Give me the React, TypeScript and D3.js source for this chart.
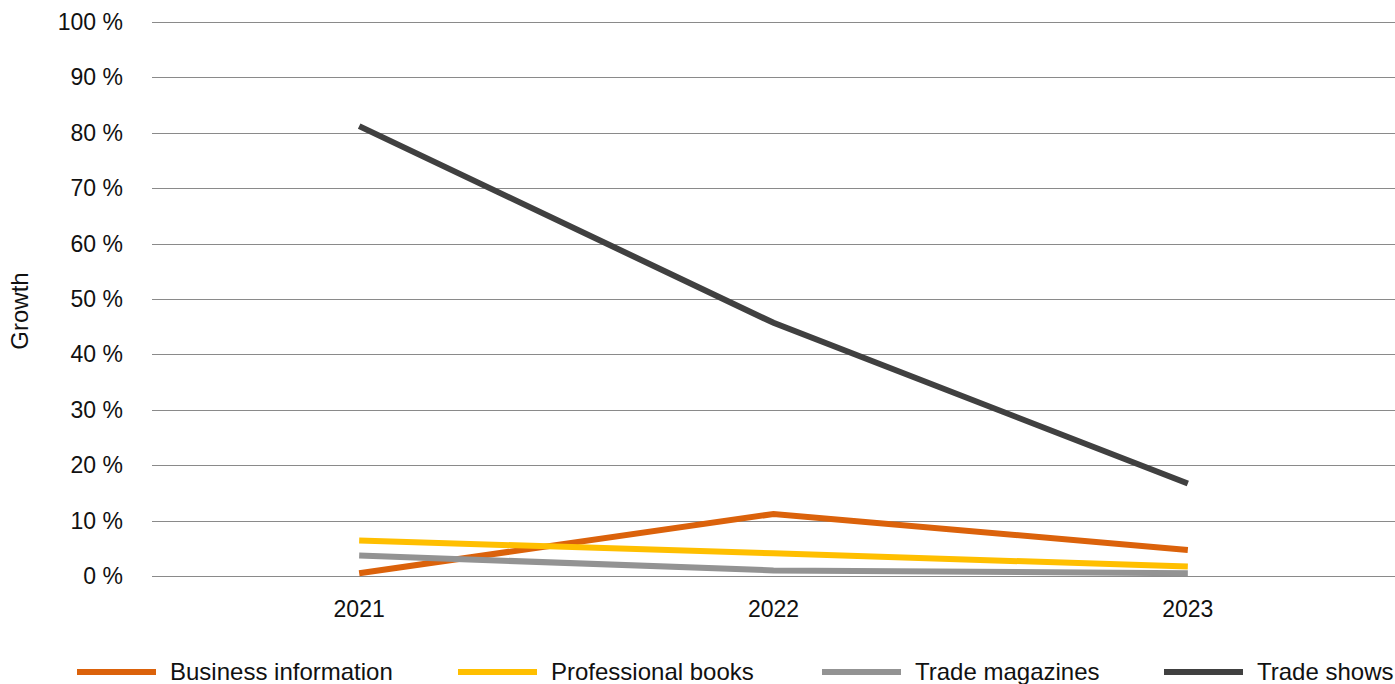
import React from "react";
import * as d3 from "d3";

const years = ["2021", "2022", "2023"];
const businessInformation = [0.5, 11.2, 4.7];
const professionalBooks = [6.4, 4.1, 1.7];
const tradeMagazines = [3.7, 1.0, 0.5];
const tradeShows = [81.2, 45.7, 16.7];
const yTicks = [0, 10, 20, 30, 40, 50, 60, 70, 80, 90, 100];

const seriesNames = ["Business information", "Professional books", "Trade magazines", "Trade shows"];
const seriesColors = ["#DB620B", "#FFBF00", "#939393", "#404040"];
const legendX = [77, 458, 822, 1164];

const W = 1395;
const H = 684;
const margin = { left: 152, right: 0, top: 22, bottom: 108 };
const FONT = "'Liberation Sans', Arial, Helvetica, sans-serif";

export default function App() {
  const x = d3
    .scaleBand<string>()
    .domain(years)
    .range([margin.left, W - margin.right]);
  const y = d3
    .scaleLinear()
    .domain([0, 100])
    .range([H - margin.bottom, margin.top]);

  const series = [businessInformation, professionalBooks, tradeMagazines, tradeShows];
  const line = d3
    .line<number>()
    .x((_, i) => (x(years[i]) as number) + x.bandwidth() / 2)
    .y((d) => y(d));

  return (
    <svg
      width={W}
      height={H}
      style={{ position: "absolute", left: 0, top: 0, background: "#fff" }}
      fontFamily={FONT}
    >
      {yTicks.map((t) => (
        <g key={t}>
          <line
            x1={margin.left}
            x2={W - margin.right}
            y1={Math.round(y(t)) + 0.5}
            y2={Math.round(y(t)) + 0.5}
            stroke="#8a8a8a"
            strokeWidth={1}
          />
          <text
            x={123}
            y={y(t)}
            dy="0.35em"
            textAnchor="end"
            fontSize={23}
            fill="#111"
          >
            {`${t} %`}
          </text>
        </g>
      ))}
      <text
        transform={`translate(28, ${(y(0) + y(100)) / 2 + 12}) rotate(-90)`}
        textAnchor="middle"
        fontSize={24}
        fill="#111"
      >
        Growth
      </text>
      {years.map((yr) => (
        <text
          key={yr}
          x={(x(yr) as number) + x.bandwidth() / 2}
          y={617}
          textAnchor="middle"
          fontSize={23}
          fill="#111"
        >
          {yr}
        </text>
      ))}
      {series.map((s, i) => (
        <path
          key={seriesNames[i]}
          d={line(s) ?? ""}
          fill="none"
          stroke={seriesColors[i]}
          strokeWidth={6}
          strokeLinejoin="miter"
          strokeLinecap="butt"
        />
      ))}
      {seriesNames.map((name, i) => (
        <g key={name}>
          <rect x={legendX[i]} y={669} width={79} height={6} fill={seriesColors[i]} />
          <text x={legendX[i] + 93} y={680} fontSize={24} fill="#111">
            {name}
          </text>
        </g>
      ))}
    </svg>
  );
}
